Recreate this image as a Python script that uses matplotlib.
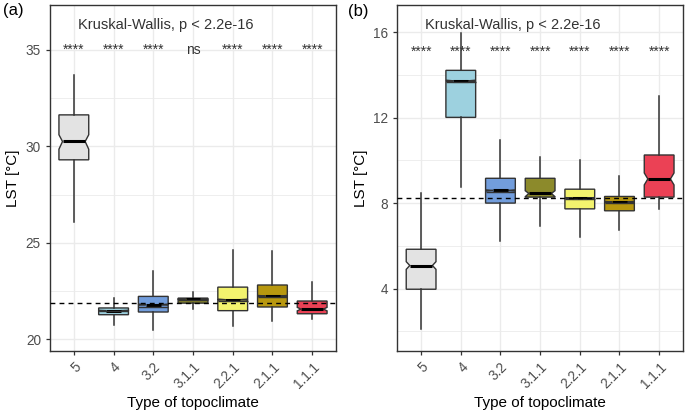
import numpy as np
import matplotlib
matplotlib.use("Agg")
from matplotlib import pyplot as plt
from matplotlib.ticker import MultipleLocator

plt.rcParams['font.family'] = ['Liberation Sans', 'DejaVu Sans']

cats = ["5", "4", "3.2", "3.1.1", "2.2.1", "2.1.1", "1.1.1"]
colors = ["#e3e3e3", "#9dd1df", "#729ddc", "#8c8a2b", "#f3f36e", "#b8980f", "#eb4155"]

# panel (a): mean daytime LST
a_whislo = [26.1, 20.75, 20.49, 21.58, 20.66, 20.92, 21.06]
a_q1 = [29.3, 21.27, 21.41, 21.87, 21.48, 21.67, 21.32]
a_med = [30.25, 21.48, 21.79, 22.08, 22.05, 22.24, 21.56]
a_q3 = [31.63, 21.62, 22.22, 22.13, 22.70, 22.81, 21.98]
a_whishi = [33.7, 22.13, 23.51, 22.44, 24.6, 24.55, 22.94]
a_cilo = [29.85, 21.46, 21.76, 22.06, 22.02, 22.21, 21.47]
a_cihi = [30.6, 21.50, 21.82, 22.10, 22.08, 22.27, 21.65]
a_line = [None, 21.44, 21.65, 22.02, 21.97, 22.19, None]
a_ref = 21.87
a_sig = ["****", "****", "****", "ns", "****", "****", "****"]
a_sig_y = 35

# panel (b)
b_whislo = [2.1, 8.77, 6.23, 6.93, 6.42, 6.76, 7.74]
b_q1 = [3.97, 12.01, 8.0, 8.28, 7.73, 7.64, 8.28]
b_med = [5.08, 13.72, 8.59, 8.45, 8.23, 8.05, 9.13]
b_q3 = [5.84, 14.21, 9.16, 9.16, 8.65, 8.31, 10.25]
b_whishi = [8.45, 15.95, 10.94, 10.15, 10.01, 9.26, 13.0]
b_cilo = [4.9, 13.69, 8.56, 8.30, 8.20, 8.02, 8.85]
b_cihi = [5.26, 13.75, 8.62, 8.58, 8.26, 8.08, 9.41]
b_line = [None, 13.66, 8.51, None, 8.17, 8.0, None]
b_ref = 8.26
b_sig = ["****"] * 7
b_sig_y = 15.1

DARK = "#333333"
GREY = "#4d4d4d"


def panel(ax, whislo, q1, med, q3, whishi, cilo, cihi, line, ref, sig, sig_y,
          ylim, ymajor):
    pos = np.arange(1, len(cats) + 1)
    stats = []
    for i in range(len(cats)):
        stats.append(dict(whislo=whislo[i], q1=q1[i], med=med[i], q3=q3[i],
                          whishi=whishi[i], cilo=cilo[i], cihi=cihi[i], fliers=[]))
    width = 0.75
    bp = ax.bxp(stats, positions=pos, widths=width, shownotches=True,
                patch_artist=True, showcaps=False,
                boxprops=dict(edgecolor=DARK, linewidth=1.0),
                whiskerprops=dict(color=DARK, linewidth=1.1),
                medianprops=dict(color="black", linewidth=2.2, solid_capstyle="butt"))
    # shallower notches, like ggplot's output in the original figure
    deep = width * 0.25
    shallow = width * 0.38
    for i, (patch, c) in enumerate(zip(bp["boxes"], colors)):
        patch.set_facecolor(c)
        patch.set_zorder(2)
        if line[i] is None:
            v = patch.get_path().vertices
            dx = v[:, 0] - pos[i]
            m = np.isclose(np.abs(dx), deep)
            v[m, 0] = pos[i] + np.sign(dx[m]) * shallow
            bp["medians"][i].set_xdata([pos[i] - shallow, pos[i] + shallow])
    for p, y in zip(pos, line):
        if y is not None:
            ax.hlines(y, p - width / 2, p + width / 2, color=DARK, linewidth=1.0, zorder=3)

    ax.axhline(ref, color="black", linewidth=1.0, linestyle=(0, (3.5, 3)), zorder=4)

    for p, s in zip(pos, sig):
        ax.text(p, sig_y, s, ha="center", va="center", fontsize=10, color=DARK)
    ax.text(1.1, ylim[1] - (ylim[1] - ylim[0]) * 0.057, "Kruskal-Wallis, p < 2.2e-16",
            ha="left", va="center", fontsize=10.5, color=DARK)

    ax.set_xlim(0.4, len(cats) + 0.6)
    ax.set_ylim(*ylim)
    ax.set_xticks(pos)
    ax.set_xticklabels(cats, rotation=45, ha="right", rotation_mode="anchor")
    ax.yaxis.set_major_locator(MultipleLocator(ymajor))
    ax.yaxis.set_minor_locator(MultipleLocator(ymajor / 2))
    ax.grid(which="major", color="#ebebeb", linewidth=1.0, zorder=0)
    ax.grid(which="minor", axis="y", color="#ebebeb", linewidth=0.6, zorder=0)
    ax.set_axisbelow(True)
    ax.tick_params(axis="both", which="major", colors=DARK, labelcolor=GREY,
                   labelsize=9.8, length=3, width=0.9)
    ax.tick_params(axis="y", which="minor", length=0)
    for sp in ax.spines.values():
        sp.set_color(DARK)
        sp.set_linewidth(1.0)
    ax.set_xlabel("Type of topoclimate", fontsize=11, color="black", labelpad=4)
    ax.set_ylabel("LST [°C]", fontsize=11, color="black", labelpad=4)


fig = plt.figure(figsize=(6.85, 4.11), dpi=100)
ax1 = fig.add_axes([0.073, 0.147, 0.4175, 0.841])
ax2 = fig.add_axes([0.580, 0.147, 0.4170, 0.841])

panel(ax1, a_whislo, a_q1, a_med, a_q3, a_whishi, a_cilo, a_cihi, a_line,
      a_ref, a_sig, a_sig_y, (19.41, 37.33), 5)
panel(ax2, b_whislo, b_q1, b_med, b_q3, b_whishi, b_cilo, b_cihi, b_line,
      b_ref, b_sig, b_sig_y, (1.1, 17.27), 4)

fig.text(0.004, 0.975, "(a)", fontsize=12, ha="left", va="center")
fig.text(0.508, 0.972, "(b)", fontsize=12, ha="left", va="center")

fig.savefig("out.png", dpi=100)
